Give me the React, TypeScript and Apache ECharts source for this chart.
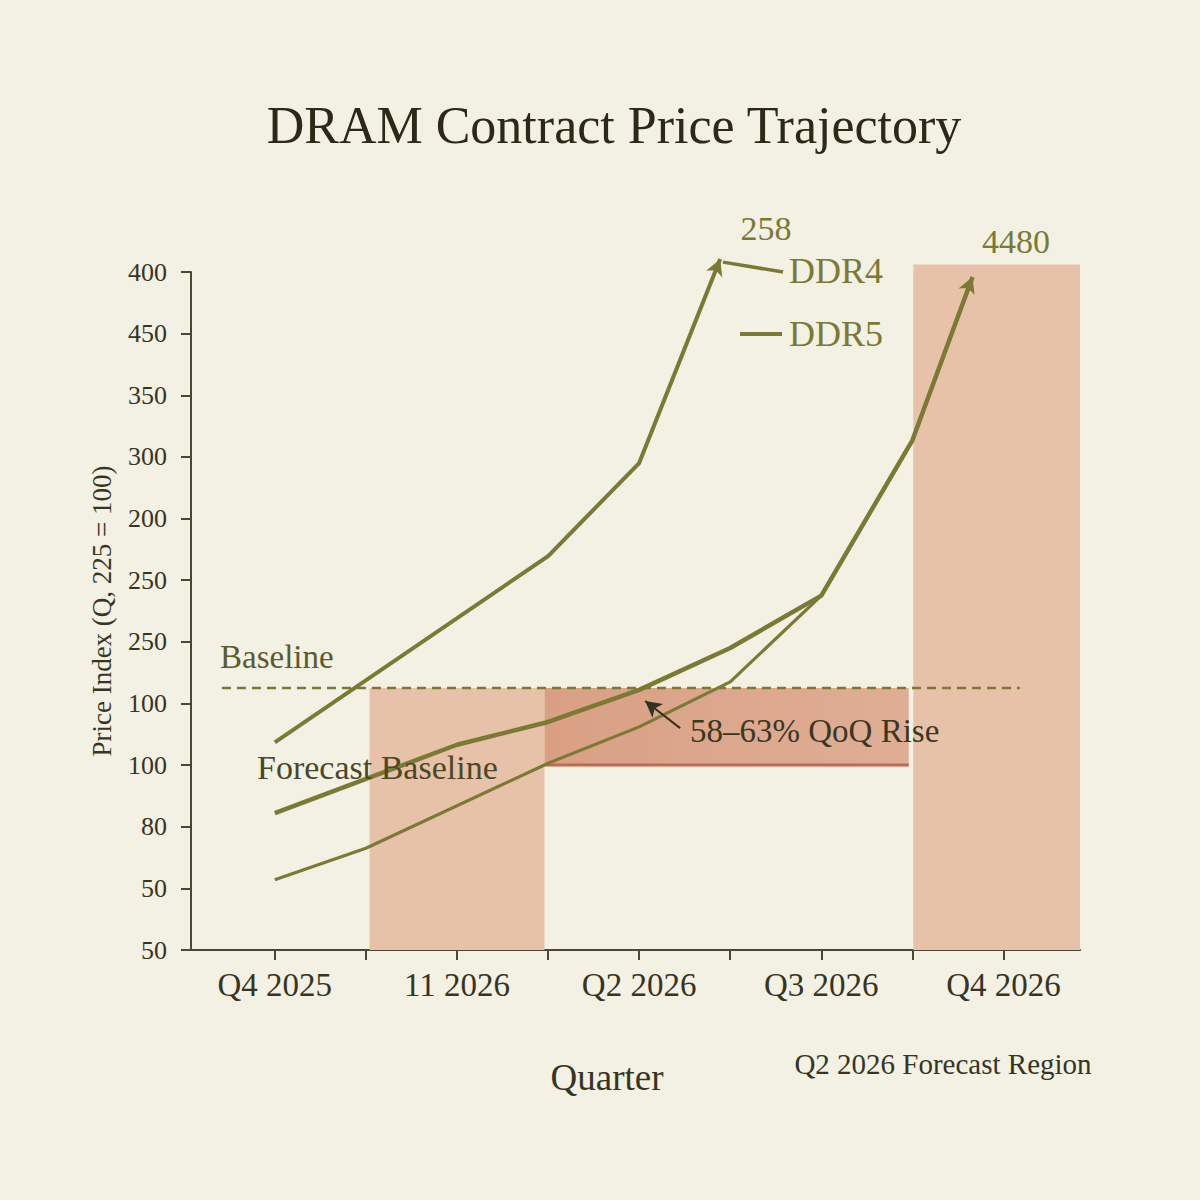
import React, { useEffect, useRef } from 'react';
import * as echarts from 'echarts';

// ---- data (axis units: x = quarter index, y = tick index) ----
const quarters = ['Q4 2025', '11 2026', 'Q2 2026', 'Q3 2026', 'Q4 2026'];
const quarterPos = [0, 1, 2, 3, 4];
const tickPos = [0, 0.5, 1, 1.5, 2, 2.5, 3, 3.5, 4];
const yTickLabels = ['50', '50', '80', '100', '100', '250', '250', '200', '300', '350', '450', '400'];

const ddr4X = [0, 1.5, 2, 2.445];
const ddr4Y = [3.37, 6.39, 7.9, 11.21];
const ddr4LeaderX = [2.46, 2.79];
const ddr4LeaderY = [11.16, 11.0];

const ddr5HighX = [0, 1, 1.5, 2, 2.5, 3, 3.5, 3.83];
const ddr5HighY = [2.22, 3.33, 3.7, 4.22, 4.9, 5.75, 8.27, 10.92];
const ddr5LowX = [0, 0.5, 1.5, 2, 2.5, 3];
const ddr5LowY = [1.14, 1.65, 3.03, 3.62, 4.35, 5.75];

const baselineX = [-0.29, 4.09];
const baselineY = [4.25, 4.25];

// shaded regions: [x0, x1, y0, y1, kind]  (kind 0 = light shade, 1 = forecast band)
const regionX0 = [0.52, 3.505, 1.48];
const regionX1 = [1.48, 4.42, 3.48];
const regionY0 = [0, 0, 3.0];
const regionY1 = [4.25, 11.12, 4.25];
const regionKind = [0, 0, 1];

const qoqArrowX = [2.225, 2.033];
const qoqArrowY = [3.6, 4.04];

// ---- styles ----
const SERIF = '"Liberation Serif", "DejaVu Serif", serif';
const BG = '#f3f0e4';
const OLIVE = '#7a7a34';
const AXIS = '#4a4833';
const LABEL = '#37351f';
const SHADE = '#e7c2a8';
const RED = '#c8674c';
const FORECAST_FILL = {
  type: 'linear', x: 0, y: 0, x2: 1, y2: 0,
  colorStops: [
    { offset: 0, color: '#d99f83' },
    { offset: 0.4, color: '#dba68c' },
    { offset: 1, color: '#dfae95' },
  ],
};

function pts(xs: number[], ys: number[], arrowRotate?: number, color?: string) {
  return xs.map((x, i) => {
    const last = i === xs.length - 1;
    if (last && arrowRotate !== undefined) {
      return {
        value: [x, ys[i]],
        symbol: 'arrow',
        symbolSize: [13, 16],
        symbolRotate: arrowRotate,
        itemStyle: { color: color || OLIVE },
      };
    }
    return { value: [x, ys[i]], symbol: 'none' };
  });
}

function txt(text: string, x: number, y: number, size: number, color: string, align = 'left') {
  return {
    type: 'text',
    x,
    y,
    z: 20,
    style: {
      text,
      fontSize: size,
      fontFamily: SERIF,
      fill: color,
      textAlign: align,
      textVerticalAlign: 'middle',
    },
  };
}

export default function App() {
  const ref = useRef<HTMLDivElement>(null);

  useEffect(() => {
    document.body.style.margin = '0';
    const chart = echarts.init(ref.current as HTMLDivElement, null, { renderer: 'svg' });
    const lineBase = {
      type: 'line',
      clip: false,
      showSymbol: true,
      silent: true,
      emphasis: { disabled: true },
    };
    const regionData = regionX0.map((x0, i) => [x0, regionX1[i], regionY0[i], regionY1[i], regionKind[i]]);
    chart.setOption({
      animation: false,
      backgroundColor: BG,
      grid: { left: 191, right: 120, top: 272, bottom: 250, containLabel: false },
      xAxis: {
        type: 'value',
        min: -0.46,
        max: 4.42,
        splitLine: { show: false },
        axisLine: { show: true, onZero: false, lineStyle: { color: AXIS, width: 2 } },
        axisTick: { show: true, customValues: tickPos, length: 10, lineStyle: { color: AXIS, width: 2 } },
        axisLabel: {
          customValues: quarterPos,
          formatter: (v: number) => quarters[Math.round(v)] ?? '',
          fontSize: 33,
          fontFamily: SERIF,
          color: LABEL,
          margin: 18,
        },
      },
      yAxis: {
        type: 'value',
        min: 0,
        max: 11,
        interval: 1,
        splitLine: { show: false },
        axisLine: { show: true, onZero: false, lineStyle: { color: AXIS, width: 2 } },
        axisTick: { show: true, length: 10, lineStyle: { color: AXIS, width: 2 } },
        axisLabel: {
          formatter: (v: number) => yTickLabels[Math.round(v)] ?? '',
          fontSize: 26,
          fontFamily: SERIF,
          color: LABEL,
          margin: 24,
        },
        name: 'Price Index (Q, 225 = 100)',
        nameLocation: 'middle',
        nameGap: 76,
        nameRotate: 90,
        nameTextStyle: { fontSize: 27, fontFamily: SERIF, color: LABEL },
      },
      series: [
        {
          type: 'custom',
          name: 'regions',
          z: 1,
          clip: false,
          silent: true,
          data: regionData,
          encode: { x: [0, 1], y: [2, 3] },
          renderItem: (params: any, api: any) => {
            const p0 = api.coord([api.value(0), api.value(2)]);
            const p1 = api.coord([api.value(1), api.value(3)]);
            const kind = api.value(4);
            return {
              type: 'rect',
              shape: {
                x: Math.min(p0[0], p1[0]),
                y: Math.min(p0[1], p1[1]),
                width: Math.abs(p1[0] - p0[0]),
                height: Math.abs(p1[1] - p0[1]),
              },
              style: { fill: kind === 1 ? FORECAST_FILL : SHADE },
            };
          },
        },
        {
          ...lineBase,
          name: 'forecast floor',
          z: 2,
          data: pts([regionX0[2], regionX1[2]], [regionY0[2], regionY0[2]]),
          lineStyle: { color: RED, width: 3 },
        },
        {
          ...lineBase,
          name: 'Baseline',
          z: 3,
          data: pts(baselineX, baselineY),
          lineStyle: { color: OLIVE, width: 2.5, type: [9, 6] },
        },
        {
          ...lineBase,
          name: 'DDR4',
          z: 5,
          data: pts(ddr4X, ddr4Y, -22),
          lineStyle: { color: OLIVE, width: 4, join: 'miter' },
        },
        {
          ...lineBase,
          name: 'DDR4 leader',
          z: 5,
          data: pts(ddr4LeaderX, ddr4LeaderY),
          lineStyle: { color: OLIVE, width: 3.5 },
        },
        {
          ...lineBase,
          name: 'DDR5',
          z: 5,
          data: pts(ddr5HighX, ddr5HighY, -22),
          lineStyle: { color: OLIVE, width: 4.5 },
        },
        {
          ...lineBase,
          name: 'DDR5 low',
          z: 5,
          data: pts(ddr5LowX, ddr5LowY),
          lineStyle: { color: OLIVE, width: 3.2 },
        },
        {
          ...lineBase,
          name: 'QoQ arrow',
          z: 6,
          data: pts(qoqArrowX, qoqArrowY, 52, '#34321f'),
          lineStyle: { color: '#34321f', width: 2 },
        },
      ],
      graphic: [
        txt('DRAM Contract Price Trajectory', 614, 125, 52, '#2c2916', 'center'),
        txt('258', 766, 228, 34, OLIVE, 'center'),
        txt('4480', 1016, 241, 34, OLIVE, 'center'),
        txt('DDR4', 789, 271, 36, OLIVE),
        txt('DDR5', 789, 334, 36, OLIVE),
        {
          type: 'line',
          z: 20,
          shape: { x1: 740, y1: 334, x2: 782, y2: 334 },
          style: { stroke: OLIVE, lineWidth: 4 },
        },
        txt('Baseline', 220, 657, 33, '#5c5b2c'),
        txt('Forecast Baseline', 257, 767, 34, '#4a4826'),
        txt('58\u201363% QoQ Rise', 690, 731, 33, '#3a3822'),
        txt('Quarter', 607, 1077, 37, LABEL, 'center'),
        txt('Q2 2026 Forecast Region', 943, 1064, 29, LABEL, 'center'),
      ],
    });
    return () => chart.dispose();
  }, []);

  return <div ref={ref} style={{ width: 1200, height: 1200 }} />;
}
